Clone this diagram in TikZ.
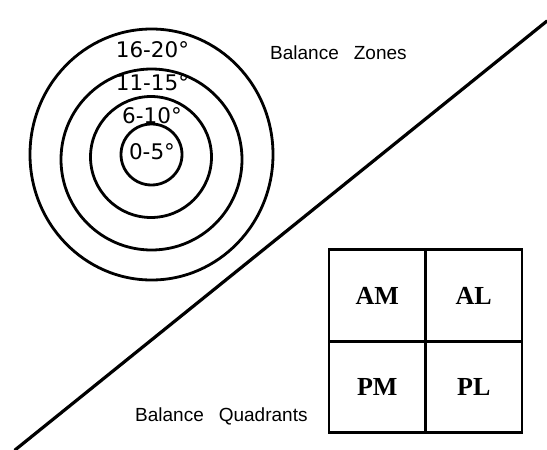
\documentclass[tikz,border=0pt]{standalone}
\usepackage{fontspec}
\setmainfont{Liberation Serif}
\newfontfamily\zonefont{DejaVu Sans}
\newfontfamily\capfont{Liberation Sans}
\usepackage{tikz}
\usetikzlibrary{positioning,calc}
\tikzset{
  ring/.style={draw,line width=2.8pt},
  deg/.style={font=\zonefont\fontsize{21.5}{24}\selectfont,anchor=base,inner sep=0pt},
  title/.style={font=\capfont\fontsize{19}{22}\selectfont,anchor=base west,inner sep=0pt},
  cell/.style={draw,line width=2.8pt,outer sep=0pt,minimum width=96.5pt,minimum height=91.5pt,
    font=\bfseries\fontsize{26}{28}\selectfont,inner sep=0pt},
  split/.style={line width=3.2pt,line cap=round}}
\begin{document}
\begin{tikzpicture}[x=1pt,y=-1pt,node distance=0pt]
\useasboundingbox (0,0) rectangle (547,450);
% zones
\draw[ring] (151.5,154.5) ellipse [x radius=121.5pt,y radius=125.5pt];
\draw[ring] (151.5,159.5) circle [radius=90.5pt];
\draw[ring] (151,157) circle [radius=60.5pt];
\draw[ring] (151.5,154.5) circle [radius=30.5pt];
\node[deg] (z4) at (152.5,57) {16-20°};
\node[deg] (z3) at (152.5,90) {11-15°};
\node[deg] (z2) at (152,123) {6-10°};
\node[deg] (z1) at (152,159) {0-5°};
\node[title] (zones) at (270,59) {Balance\hspace{15pt}Zones};
% divider
\coordinate (lo) at (15,450); \coordinate (hi) at (547,21);
\draw[split] (lo)--(hi);
% quadrants
\node[cell] (am) at (377.25,295.5) {\raisebox{-2pt}{AM}};
\node[cell, right=of am] (al) {\raisebox{-2pt}{AL}};
\node[cell, below=of am] (pm) {\raisebox{-3pt}{PM}};
\node[cell, right=of pm] (pl) {\raisebox{-3pt}{PL}};
\node[title] (quads) at (135,421) {Balance\hspace{15pt}Quadrants};
\end{tikzpicture}
\end{document}
